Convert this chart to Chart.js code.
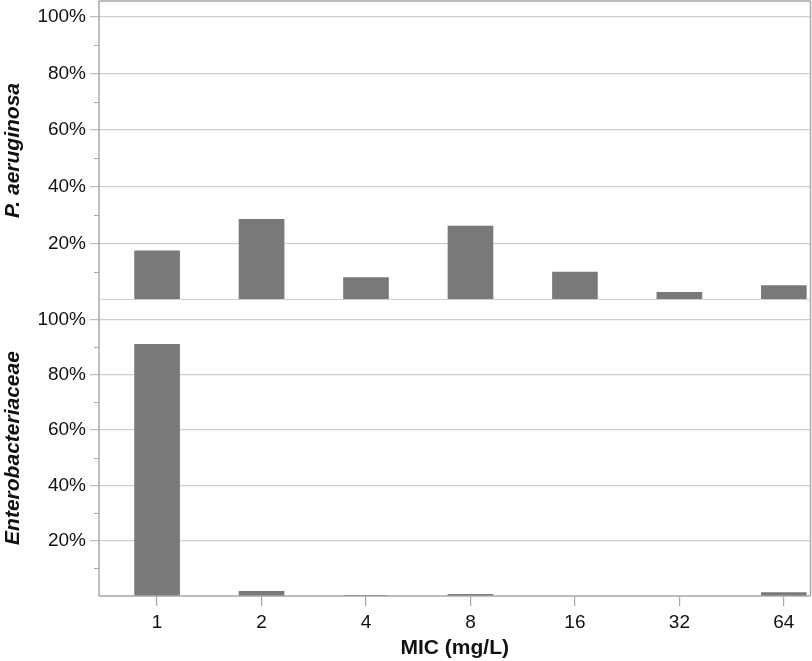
<!DOCTYPE html>
<html>
<head>
<meta charset="utf-8">
<title>MIC distribution</title>
<script src="https://cdn.jsdelivr.net/npm/chart.js@4.4.0/dist/chart.umd.min.js"></script>
<style>
    body { margin: 0; background: #fff; }
    #wrap { position: relative; width: 812px; height: 661px; }
    canvas { position: absolute; left: 0; }
    #topChart { top: 0; }
    #bottomChart { top: 300px; }
</style>
</head>
<body>
<div id="wrap">
    <canvas id="topChart" width="812" height="300"></canvas>
    <canvas id="bottomChart" width="812" height="361"></canvas>
</div>
<script>
// MIC categories (mg/L)
const micLabels = ['1', '2', '4', '8', '16', '32', '64'];

// percentage of isolates at each MIC
const pAeruginosa = [17.5, 28.6, 8.0, 26.2, 10.0, 2.8, 5.2];
const enterobacteriaceae = [91.1, 1.8, 0.4, 0.7, 0, 0, 1.4];

// y axis ticks
const majorTicks = [20, 40, 60, 80, 100];
const minorTicks = [10, 30, 50, 70, 90];

const FONT = "'Liberation Sans', Arial, Helvetica, sans-serif";
const AXIS_GREY = '#a8a8a8';
const GRID_GREY = '#cfcfcf';
const BAR_GREY = '#797979';

Chart.defaults.font.family = FONT;
Chart.defaults.color = '#111';

function toPoints(values) {
    return values.map((v, i) => ({ x: i, y: v }));
}

// frame lines and short minor ticks on the y axis
function framePlugin(sides) {
    return {
        id: 'frame',
        afterDraw(chart) {
            const ctx = chart.ctx;
            const a = chart.chartArea;
            const y = chart.scales.y;
            ctx.save();
            ctx.lineWidth = 1.5;
            ctx.strokeStyle = AXIS_GREY;
            ctx.beginPath();
            ctx.moveTo(a.left, a.top);
            ctx.lineTo(a.left, a.bottom);
            ctx.moveTo(a.right, a.top);
            ctx.lineTo(a.right, a.bottom);
            if (sides.top) {
                ctx.moveTo(a.left, a.top);
                ctx.lineTo(a.right, a.top);
            }
            if (sides.bottom) {
                ctx.moveTo(a.left, a.bottom);
                ctx.lineTo(a.right, a.bottom);
            }
            ctx.stroke();

            if (sides.separator) {
                ctx.lineWidth = 1;
                ctx.strokeStyle = GRID_GREY;
                ctx.beginPath();
                ctx.moveTo(a.left, a.bottom - 0.5);
                ctx.lineTo(a.right, a.bottom - 0.5);
                ctx.stroke();
            }

            ctx.lineWidth = 1;
            ctx.strokeStyle = AXIS_GREY;
            ctx.beginPath();
            minorTicks.forEach(v => {
                const py = Math.round(y.getPixelForValue(v)) + 0.5;
                ctx.moveTo(a.left - 5, py);
                ctx.lineTo(a.left, py);
            });
            ctx.stroke();
            ctx.restore();
        }
    };
}

function yScale(title, max) {
    return {
        min: 0,
        max: max,
        afterFit: s => {
            s.width = 99;
            s.paddingTop = 0;
            s.paddingBottom = 0;
        },
        afterBuildTicks: s => { s.ticks = majorTicks.map(v => ({ value: v })); },
        border: { display: false },
        grid: {
            color: GRID_GREY,
            tickColor: '#bdbdbd',
            tickLength: 9,
            lineWidth: 1.2
        },
        ticks: {
            padding: 4,
            font: { size: 19 },
            color: '#111',
            callback: v => v + '%'
        },
        title: {
            display: true,
            text: title,
            padding: { top: 1, bottom: 0 },
            font: { size: 21, weight: 'bold', style: 'italic' },
            color: '#111'
        }
    };
}

function xScale(show) {
    return {
        type: 'linear',
        display: show,
        min: -0.556,
        max: 6.255,
        offset: false,
        afterFit: s => {
            if (show) s.height = 65;
            s.paddingLeft = 0;
            s.paddingRight = 0;
        },
        afterBuildTicks: s => { s.ticks = micLabels.map((_, i) => ({ value: i })); },
        border: { display: false },
        grid: {
            offset: false,
            drawOnChartArea: false,
            drawTicks: true,
            tickLength: 10,
            tickColor: AXIS_GREY,
            lineWidth: 1.2
        },
        ticks: {
            padding: 5,
            font: { size: 19 },
            color: '#111',
            maxRotation: 0,
            callback: v => micLabels[v]
        },
        title: {
            display: true,
            text: 'MIC (mg/L)',
            padding: { top: 0, bottom: 0 },
            font: { size: 21, weight: 'bold' },
            color: '#111'
        }
    };
}

function barDataset(label, values) {
    return {
        label: label,
        data: toPoints(values),
        backgroundColor: BAR_GREY,
        borderWidth: 0,
        categoryPercentage: 1,
        barPercentage: 0.437
    };
}

const topChart = new Chart(document.getElementById('topChart'), {
    type: 'bar',
    data: { datasets: [barDataset('P. aeruginosa', pAeruginosa)] },
    options: {
        responsive: false,
        animation: false,
        devicePixelRatio: 1,
        layout: { padding: { top: 1, right: 1.5, left: 0, bottom: 0 } },
        plugins: { legend: { display: false }, tooltip: { enabled: false } },
        scales: {
            x: xScale(false),
            y: yScale('P. aeruginosa', 105.5)
        }
    },
    plugins: [framePlugin({ top: true, bottom: false, separator: true })]
});

const bottomChart = new Chart(document.getElementById('bottomChart'), {
    type: 'bar',
    data: { datasets: [barDataset('Enterobacteriaceae', enterobacteriaceae)] },
    options: {
        responsive: false,
        animation: false,
        devicePixelRatio: 1,
        layout: { padding: { top: 0, right: 1.5, left: 0, bottom: 0 } },
        plugins: { legend: { display: false }, tooltip: { enabled: false } },
        scales: {
            x: xScale(true),
            y: yScale('Enterobacteriaceae', 107)
        }
    },
    plugins: [framePlugin({ top: false, bottom: true, separator: false })]
});
</script>
</body>
</html>
